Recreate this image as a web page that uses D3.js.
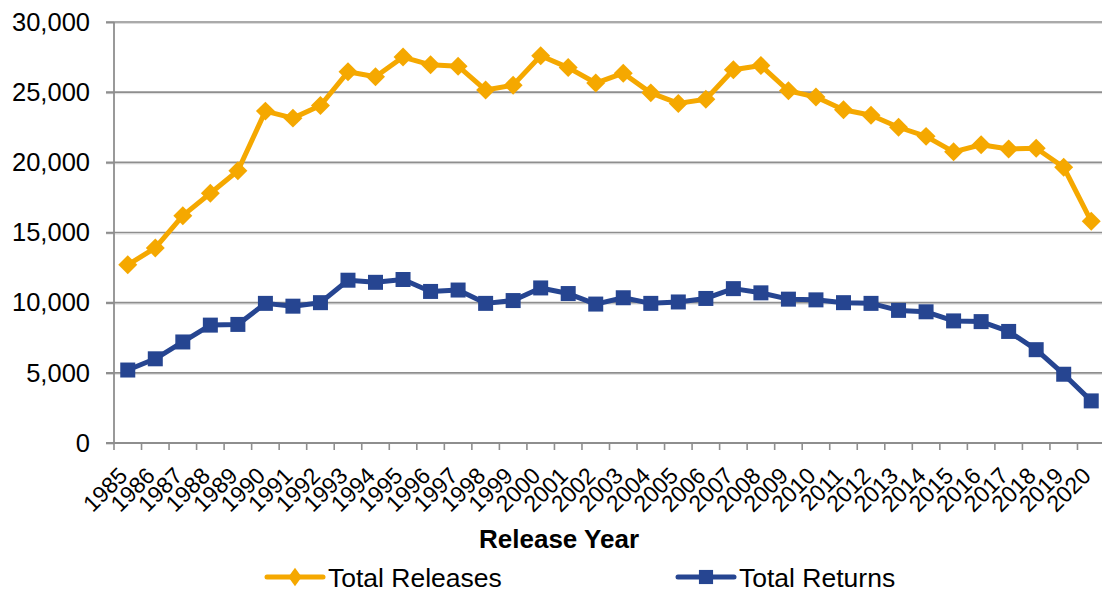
<!DOCTYPE html>
<html>
<head>
<meta charset="utf-8">
<script src="https://cdn.jsdelivr.net/npm/d3@7"></script>
<style>
  html, body { margin: 0; padding: 0; background: #fff; }
  svg { display: block; font-family: "Liberation Sans", Arial, sans-serif; }
</style>
</head>
<body>
<svg id="chart" width="1102" height="593"></svg>
<script>
const years = ["1985","1986","1987","1988","1989","1990","1991","1992","1993","1994","1995","1996","1997","1998","1999","2000","2001","2002","2003","2004","2005","2006","2007","2008","2009","2010","2011","2012","2013","2014","2015","2016","2017","2018","2019","2020"];
const totalReleases = [12700,13900,16200,17800,19400,23650,23150,24050,26450,26100,27500,26950,26850,25150,25500,27600,26750,25650,26350,24950,24200,24500,26600,26900,25100,24650,23750,23350,22500,21850,20750,21250,20950,21000,19650,15800];
const totalReturns = [5200,6000,7200,8400,8450,9950,9750,10000,11600,11450,11650,10800,10900,9950,10150,11050,10650,9900,10350,9950,10050,10300,11000,10700,10250,10200,10000,9950,9450,9350,8700,8650,7950,6650,4900,3000];
const yTicks = [0,5000,10000,15000,20000,25000,30000];
const seriesNames = ["Total Releases","Total Returns"];
const xTitle = "Release Year";

const svg = d3.select("#chart");
const pLeft = 114, pRight = 1105, pTop = 22, pBottom = 443;
const orange = "#F5A800", blue = "#264591";

const x = d3.scaleBand().domain(years).range([pLeft, pRight]).padding(0);
const y = d3.scaleLinear().domain([0, 30000]).range([pBottom, pTop]);
const cx = d => x(d) + x.bandwidth() / 2;

// gridlines
const grid = svg.append("g");
yTicks.filter(t => t > 0).forEach(t => {
  grid.append("line").attr("x1", pLeft - 8).attr("x2", pRight).attr("y1", y(t) + 1.5).attr("y2", y(t) + 1.5)
    .attr("stroke", "#dcdcdc").attr("stroke-width", 1);
  grid.append("line").attr("x1", pLeft - 8).attr("x2", pRight).attr("y1", y(t)).attr("y2", y(t))
    .attr("stroke", "#8e8e8e").attr("stroke-width", 1.6);
});

// y axis
const yAxis = svg.append("g").attr("transform", `translate(${pLeft},0)`)
  .call(d3.axisLeft(y).tickValues(yTicks).tickSize(8).tickPadding(16).tickFormat(d3.format(",")));
yAxis.select(".domain").attr("stroke", "#8e8e8e").attr("stroke-width", 1.8).attr("d", `M0,${pTop}V${pBottom}`);
yAxis.selectAll(".tick line").attr("stroke", "#8e8e8e").attr("stroke-width", 1.6);
yAxis.selectAll(".tick text").attr("font-size", "25.5px").attr("fill", "#000")
  .attr("font-family", "'Liberation Sans', Arial, sans-serif");

// x axis
const xAxis = svg.append("g").attr("transform", `translate(0,${pBottom})`)
  .call(d3.axisBottom(x).tickSize(0).tickFormat(d => d));
xAxis.select(".domain").attr("stroke", "#8e8e8e").attr("stroke-width", 1.8).attr("d", `M${pLeft - 8},0H${pRight}`);
const bounds = years.map(d => x(d)).concat([pRight]);
xAxis.selectAll(".btick").data(bounds).join("line").attr("class", "btick")
  .attr("x1", d => d).attr("x2", d => d).attr("y1", 0).attr("y2", 7)
  .attr("stroke", "#8e8e8e").attr("stroke-width", 1.6);
xAxis.selectAll(".tick text")
  .attr("font-size", "23px").attr("fill", "#000")
  .attr("font-family", "'Liberation Sans', Arial, sans-serif")
  .attr("text-anchor", "end").attr("dy", "0")
  .attr("transform", "translate(-1,32) rotate(-45)");

// x title
svg.append("text").attr("x", 559).attr("y", 548).attr("text-anchor", "middle")
  .attr("font-size", "26px").attr("font-weight", "bold").attr("fill", "#000").text(xTitle);

// lines
const line = vals => d3.line().x((v, i) => cx(years[i])).y(v => y(v))(vals);
svg.append("path").attr("d", line(totalReleases)).attr("fill", "none").attr("stroke", orange).attr("stroke-width", 5).attr("stroke-linejoin", "round");
svg.append("path").attr("d", line(totalReturns)).attr("fill", "none").attr("stroke", blue).attr("stroke-width", 5).attr("stroke-linejoin", "round");

svg.append("g").selectAll("path").data(totalReleases).join("path")
  .attr("d", d3.symbol().type(d3.symbolSquare).size(180))
  .attr("transform", (v, i) => `translate(${cx(years[i])},${y(v)}) rotate(45)`)
  .attr("fill", orange);
svg.append("g").selectAll("path").data(totalReturns).join("path")
  .attr("d", d3.symbol().type(d3.symbolSquare).size(225))
  .attr("transform", (v, i) => `translate(${cx(years[i])},${y(v)})`)
  .attr("fill", blue);

// legend
const legend = [
  {name: seriesNames[0], color: orange, x1: 267, x2: 323, tx: 328, sym: "diamond"},
  {name: seriesNames[1], color: blue, x1: 678, x2: 734, tx: 739, sym: "square"}
];
const ly = 577;
legend.forEach(l => {
  svg.append("line").attr("x1", l.x1).attr("x2", l.x2).attr("y1", ly).attr("y2", ly)
    .attr("stroke", l.color).attr("stroke-width", 5).attr("stroke-linecap", "round");
  const mx = (l.x1 + l.x2) / 2;
  if (l.sym === "diamond") {
    svg.append("path").attr("d", d3.symbol().type(d3.symbolSquare).size(140))
      .attr("transform", `translate(${mx},${ly}) scale(0.8,1.1) rotate(45)`).attr("fill", l.color);
  } else {
    svg.append("path").attr("d", d3.symbol().type(d3.symbolSquare).size(200))
      .attr("transform", `translate(${mx},${ly})`).attr("fill", l.color);
  }
  svg.append("text").attr("x", l.tx).attr("y", ly + 9.5).attr("font-size", "26.5px").attr("fill", "#000").text(l.name);
});
</script>
</body>
</html>
